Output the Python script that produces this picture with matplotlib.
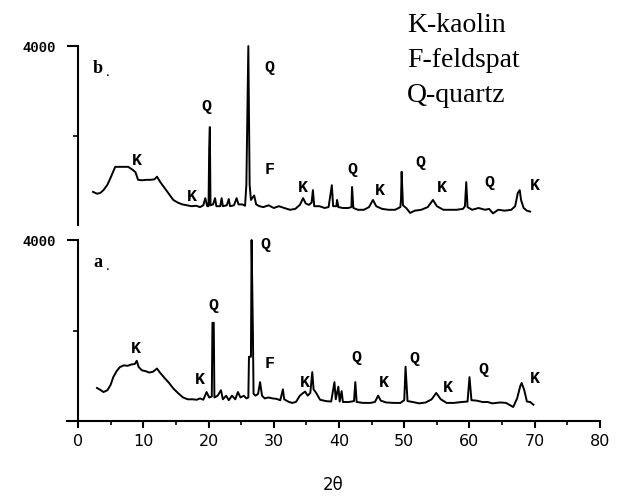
import matplotlib
matplotlib.use("Agg")
from matplotlib import pyplot as plt
from matplotlib.ticker import MultipleLocator

# 2theta / intensity
# sample a (lower panel)
theta_a = [2.9, 3.4, 3.9, 4.5, 5.0, 5.4, 5.9, 6.4, 7.0, 7.6, 8.2, 8.7, 9.0, 9.3, 9.8,
           10.4, 10.9, 11.5, 12.1, 12.5, 13.2, 13.9, 14.6, 15.3, 16.1, 16.8, 17.5, 18.2,
           18.7, 19.2, 19.7, 20.1, 20.5, 20.6, 20.8, 20.9, 21.4, 21.9, 22.2, 22.7, 23.1,
           23.6, 24.1, 24.5, 24.9, 25.4, 25.8, 26.1, 26.2, 26.5, 26.6, 26.8, 26.9, 27.2,
           27.6, 27.9, 28.2, 28.6, 29.2, 29.8, 30.4, 31.0, 31.4, 31.6, 32.2, 32.8, 33.4,
           34.0, 34.5, 34.8, 35.2, 35.6, 35.9, 36.1, 36.5, 37.1, 38.0, 38.8, 39.3, 39.5,
           39.9, 40.1, 40.4, 40.6, 41.5, 42.3, 42.5, 42.7, 43.7, 44.8, 45.5, 46.0, 46.4,
           47.2, 48.4, 49.4, 50.0, 50.2, 50.5, 51.3, 52.3, 53.3, 54.2, 54.9, 55.6, 56.5,
           57.6, 58.8, 59.7, 60.0, 60.3, 61.1, 62.0, 62.8, 63.5, 64.7, 65.6, 66.7, 67.3,
           67.8, 68.0, 68.4, 68.8, 69.3, 69.8]
counts_a = [730, 690, 640, 680, 800, 970, 1100, 1190, 1230, 1220, 1250, 1260, 1330, 1190, 1120,
            1100, 1070, 1090, 1160, 1080, 960, 850, 720, 620, 520, 480, 480, 470,
            500, 470, 640, 520, 540, 2170, 2170, 520, 560, 680, 480, 560, 460,
            560, 480, 640, 520, 560, 500, 520, 1420, 1420, 4000, 1970, 600, 560,
            600, 860, 560, 500, 520, 500, 490, 460, 700, 480, 430, 400, 420,
            560, 620, 650, 560, 620, 1080, 700, 620, 470, 440, 430, 860, 480,
            760, 430, 660, 420, 420, 440, 860, 420, 400, 400, 420, 560, 450,
            410, 400, 400, 460, 1200, 440, 420, 390, 410, 480, 620, 480, 400,
            400, 420, 430, 970, 460, 450, 420, 420, 390, 410, 400, 310, 500,
            780, 840, 680, 430, 420, 360]

# sample b (upper panel)
theta_b = [2.3, 2.9, 3.4, 3.9, 4.5, 5.0, 5.7, 6.5, 7.2, 7.7, 8.4, 8.8, 9.2, 9.8, 10.5,
           11.1, 11.7, 12.1, 12.6, 13.3, 14.0, 14.6, 15.3, 16.0, 16.7, 17.4, 18.1, 18.7,
           19.2, 19.5, 19.8, 20.0, 20.1, 20.2, 20.3, 20.7, 21.0, 21.2, 21.8, 22.0, 22.2,
           22.8, 23.1, 23.3, 23.9, 24.3, 24.6, 25.2, 25.6, 25.8, 26.1, 26.3, 26.5, 27.0,
           27.3, 27.8, 28.4, 29.2, 30.0, 30.8, 31.6, 32.5, 33.3, 34.0, 34.5, 34.9, 35.4,
           35.8, 36.0, 36.2, 37.0, 37.8, 38.4, 38.9, 39.1, 39.6, 39.7, 39.9, 40.6, 41.4,
           41.9, 42.0, 42.2, 42.9, 43.8, 44.6, 45.2, 45.7, 46.6, 47.6, 48.6, 49.4, 49.5,
           49.6, 49.8, 50.3, 50.9, 51.6, 52.6, 53.6, 54.4, 55.0, 56.0, 57.0, 58.0, 59.0,
           59.3, 59.5, 59.7, 60.4, 61.4, 62.4, 63.0, 63.6, 64.4, 65.4, 66.4, 67.0, 67.4,
           67.7, 67.9, 68.3, 68.8, 69.3]
counts_b = [740, 700, 715, 780, 900, 1060, 1300, 1300, 1300, 1300, 1230, 1180, 1010, 1000, 1010,
            1010, 1020, 1080, 960, 820, 680, 560, 500, 460, 440, 420, 430, 400,
            440, 600, 420, 420, 1720, 2190, 440, 460, 600, 420, 420, 600, 420,
            440, 580, 420, 440, 600, 460, 460, 430, 900, 4000, 900, 560, 660,
            460, 420, 400, 440, 380, 420, 380, 340, 360, 450, 600, 480, 450,
            500, 780, 420, 420, 380, 400, 890, 420, 420, 560, 400, 380, 380,
            400, 850, 380, 340, 340, 400, 560, 420, 360, 340, 340, 400, 560,
            1190, 440, 380, 270, 320, 340, 400, 560, 420, 340, 340, 340, 360,
            420, 960, 400, 340, 380, 340, 360, 260, 340, 320, 340, 420, 715,
            780, 560, 380, 320, 300]

# phase labels
labels_a = ["K", "K", "Q", "Q", "F", "K", "Q", "K", "Q", "K", "Q", "K"]
lab_x_a = [8.9, 18.7, 20.7, 28.7, 29.3, 34.8, 42.7, 46.8, 51.6, 56.7, 62.1, 70.0]
lab_y_a = [1610, 910, 2560, 3890, 1280, 840, 1410, 840, 1390, 750, 1130, 950]

labels_b = ["K", "K", "Q", "Q", "F", "K", "Q", "K", "Q", "K", "Q", "K"]
lab_x_b = [9.0, 17.5, 19.6, 29.3, 29.3, 34.5, 42.1, 46.3, 52.4, 55.8, 63.1, 70.0]
lab_y_b = [1450, 630, 2660, 3530, 1250, 830, 1230, 780, 1390, 830, 960, 890]

legend_lines = ["K-kaolin", "F-feldspat", "Q-quartz"]

fig = plt.figure(figsize=(6.2, 4.97), dpi=100)
ax_b = fig.add_axes([0.108, 0.5473, 0.8597, 0.360])
ax_a = fig.add_axes([0.108, 0.1529, 0.8597, 0.3642])

mono = "Liberation Mono"
serif = "Liberation Serif"

for ax, tx, cy, labs, lx, ly, tag in [
        (ax_b, theta_b, counts_b, labels_b, lab_x_b, lab_y_b, "b"),
        (ax_a, theta_a, counts_a, labels_a, lab_x_a, lab_y_a, "a")]:
    ax.plot(tx, cy, color="black", lw=1.4, clip_on=False)
    ax.set_xlim(-1.7, 80)
    ax.set_ylim(0, 4000)
    for s in ["top", "right"]:
        ax.spines[s].set_visible(False)
    ax.spines["left"].set_position(("data", 0))
    ax.spines["left"].set_linewidth(1.5)
    ax.set_yticks([4000])
    ax.set_yticklabels(["4000"], fontfamily=mono, fontweight="bold", fontsize=10)
    ax.set_yticks([2000], minor=True)
    ax.tick_params(axis="y", which="major", length=8, width=1.5, pad=8)
    ax.tick_params(axis="y", which="minor", length=3.5, width=1.2)
    for t, x, y in zip(labs, lx, ly):
        ax.text(x, y, t, ha="center", va="center", fontfamily=mono,
                fontweight="bold", fontsize=12)
    ax.text(2.3, 3500, tag, ha="left", va="center", fontfamily=serif,
            fontweight="bold", fontsize=13)
    ax.text(4.3, 3420, ".", ha="left", va="center", fontfamily=serif, fontsize=11)

ax_b.spines["bottom"].set_visible(False)
ax_b.tick_params(axis="x", which="both", bottom=False, labelbottom=False)

ax_a.spines["bottom"].set_linewidth(1.5)
ax_a.xaxis.set_major_locator(MultipleLocator(10))
ax_a.xaxis.set_minor_locator(MultipleLocator(5))
ax_a.tick_params(axis="x", which="major", length=5, width=1.5, labelsize=11.5, pad=4)
ax_a.tick_params(axis="x", which="minor", length=3, width=1.2)
ax_a.set_xlabel("2θ", fontsize=12, labelpad=20)

for i, line in enumerate(legend_lines):
    fig.text(0.656, 0.935 - i * 0.070, line, fontfamily=serif, fontsize=20,
             ha="left", va="baseline")

fig.savefig("out.png", dpi=100)
